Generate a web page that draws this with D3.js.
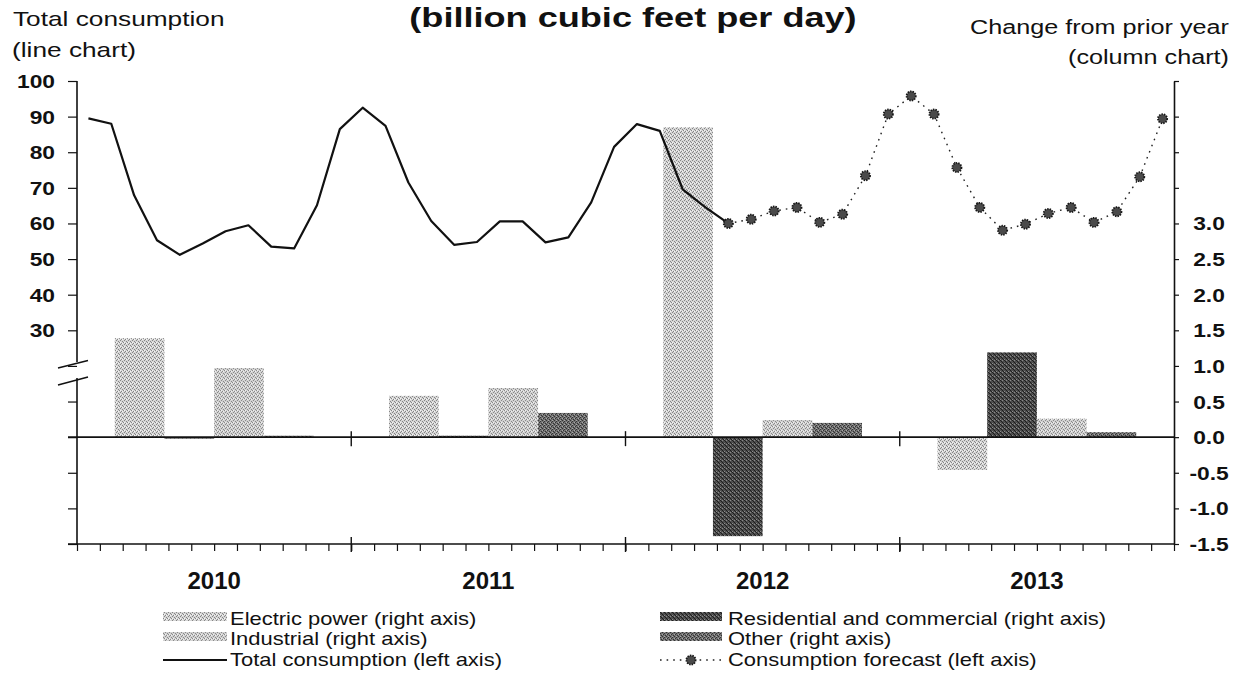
<!DOCTYPE html>
<html>
<head>
<meta charset="utf-8">
<script src="https://cdn.jsdelivr.net/npm/d3@7"></script>
<style>
  body { margin: 0; background: #fff; }
  svg { display: block; font-family: "Liberation Sans", Arial, sans-serif; }
</style>
</head>
<body>
<div id="chart"></div>
<script>

// ---- data ----
const years = ['2010', '2011', '2012', '2013'];

// monthly total consumption, Jan 2010 .. May 2012 (left axis, bcf/d)
const totalConsumption = [89.5, 88.0, 67.9, 55.3, 51.2, 54.4, 57.8, 59.5, 53.5, 53.0, 65.1, 86.5,
                          92.5, 87.4, 71.5, 60.7, 54.0, 54.8, 60.6, 60.6, 54.7, 56.1, 65.9, 81.5,
                          87.9, 86.0, 69.6, 64.5, 60.0];
const forecastStart = 28;   // May 2012
const consumptionForecast = [60.0, 61.2, 63.5, 64.5, 60.3, 62.6, 73.4, 90.7,
                             95.8, 90.7, 75.7, 64.5, 58.1, 59.8, 62.8, 64.5, 60.3, 63.3, 73.1, 89.4];

// change from prior year (right axis)
const electricPower = [1.39, 0.58, 4.35, -0.46];
const residentialCommercial = [0.0, 0.02, -1.39, 1.19];
const industrial = [0.97, 0.69, 0.24, 0.26];
const otherUse = [0.02, 0.34, 0.20, 0.07];

const leftTicks = [30, 40, 50, 60, 70, 80, 90, 100];
const rightTicks = [-1.5, -1.0, -0.5, 0.0, 0.5, 1.0, 1.5, 2.0, 2.5, 3.0];

// ---- layout ----
const W = 1249, H = 687;
const plot = { left: 77, right: 1174, top: 81, bottom: 544 };

const svg = d3.select('#chart').append('svg')
    .attr('width', W)
    .attr('height', H);

// stipple patterns for the columns
const defs = svg.append('defs');
const stipples = [
  { id: 'p-elec', base: '#d6d6d6', dark: '#858585', light: '#f4f4f4', cells: [[0, 0], [2, 1], [1, 3], [3, 2]], lcells: [[2, 3], [0, 2]] },
  { id: 'p-res',  base: '#4e4e4e', dark: '#1e1e1e', light: '#8a8a8a', cells: [[0, 0], [2, 2], [1, 1], [3, 3]], lcells: [[2, 0], [0, 3]] },
  { id: 'p-ind',  base: '#d2d2d2', dark: '#8a8a8a', light: '#f0f0f0', cells: [[1, 0], [3, 1], [0, 2], [2, 3]], lcells: [[3, 3], [1, 2]] },
  { id: 'p-oth',  base: '#737373', dark: '#333333', light: '#a8a8a8', cells: [[0, 1], [2, 0], [1, 3], [3, 2]], lcells: [[2, 2], [0, 0]] }
];
stipples.forEach(p => {
  const pat = defs.append('pattern')
      .attr('id', p.id)
      .attr('patternUnits', 'userSpaceOnUse')
      .attr('width', 4).attr('height', 4);
  pat.append('rect').attr('width', 4).attr('height', 4).attr('fill', p.base);
  p.cells.forEach(c => pat.append('rect').attr('x', c[0]).attr('y', c[1]).attr('width', 1).attr('height', 1).attr('fill', p.dark));
  p.lcells.forEach(c => pat.append('rect').attr('x', c[0]).attr('y', c[1]).attr('width', 1).attr('height', 1).attr('fill', p.light));
});

const series = [
  { key: 'Electric power', values: electricPower, fill: 'url(#p-elec)' },
  { key: 'Residential and commercial', values: residentialCommercial, fill: 'url(#p-res)' },
  { key: 'Industrial', values: industrial, fill: 'url(#p-ind)' },
  { key: 'Other', values: otherUse, fill: 'url(#p-oth)' }
];

// ---- scales ----
const xMonth = d3.scaleLinear().domain([0, 48]).range([plot.left, plot.right]);
const xYear = d3.scaleBand().domain(years).range([plot.left, plot.right]).padding(0);
const xSeries = d3.scaleBand().domain(series.map(s => s.key))
    .range([0, xYear.bandwidth()]).paddingInner(0).paddingOuter(0.76);

const yRight = d3.scaleLinear().domain([-1.5, 5]).range([plot.bottom, plot.top]);
const yLeft = d3.scaleLinear().domain([-30, 100]).range([plot.bottom, plot.top]);

// stretched text helper (the scan is wider than plain Arial)
function label(g, x, y, str, size, weight, anchor, sx) {
  return g.append('text')
      .attr('transform', `translate(${x},${y}) scale(${sx},1)`)
      .attr('text-anchor', anchor)
      .style('font-size', size + 'px')
      .style('font-weight', weight)
      .attr('fill', '#111')
      .text(str);
}

// ---- columns ----
const bars = svg.append('g');
series.forEach(s => {
  bars.selectAll(null)
    .data(s.values.map((v, i) => ({ year: years[i], v: v })))
    .enter().append('rect')
      .attr('x', d => xYear(d.year) + xSeries(s.key))
      .attr('width', xSeries.bandwidth())
      .attr('y', d => yRight(Math.max(0, d.v)))
      .attr('height', d => Math.max(1.5, Math.abs(yRight(d.v) - yRight(0))))
      .attr('fill', s.fill);
});

// ---- axes ----
const axisG = svg.append('g').attr('stroke', '#111');

// bottom month ticks
const xAxis = svg.append('g')
    .attr('transform', `translate(0,${plot.bottom})`)
    .call(d3.axisBottom(xMonth).tickValues(d3.range(0, 49)).tickSize(7).tickSizeOuter(0).tickFormat(''));
xAxis.select('.domain').remove();
xAxis.selectAll('line').attr('stroke', '#111').attr('stroke-width', 1.2);

axisG.append('line')
    .attr('x1', 68).attr('x2', plot.right)
    .attr('y1', plot.bottom).attr('y2', plot.bottom)
    .attr('stroke-width', 1.6);

// zero line
axisG.append('line')
    .attr('x1', 68).attr('x2', plot.right)
    .attr('y1', yRight(0)).attr('y2', yRight(0))
    .attr('stroke-width', 1.6);

// year dividers
[12, 24, 36].forEach(m => {
  axisG.append('line')
      .attr('x1', xMonth(m)).attr('x2', xMonth(m))
      .attr('y1', plot.bottom - 7).attr('y2', plot.bottom + 8)
      .attr('stroke-width', 1.4);
  axisG.append('line')
      .attr('x1', xMonth(m)).attr('x2', xMonth(m))
      .attr('y1', yRight(0) - 6).attr('y2', yRight(0) + 9)
      .attr('stroke-width', 1.4);
});

// left axis with a break below 30
const yAxisL = svg.append('g')
    .attr('transform', `translate(${plot.left},0)`)
    .call(d3.axisLeft(yLeft).tickValues(d3.range(-30, 101, 10)).tickSize(9).tickFormat(''));
yAxisL.select('.domain').remove();
yAxisL.selectAll('line').attr('stroke', '#111').attr('stroke-width', 1.2);

axisG.append('line')
    .attr('x1', plot.left).attr('x2', plot.left)
    .attr('y1', plot.top).attr('y2', 362)
    .attr('stroke-width', 1.6);
axisG.append('line')
    .attr('x1', plot.left).attr('x2', plot.left)
    .attr('y1', 378).attr('y2', plot.bottom)
    .attr('stroke-width', 1.6);
axisG.append('path')
    .attr('d', 'M58,368 L88,360.5 M58,385 L88,377')
    .attr('fill', 'none')
    .attr('stroke-width', 1.5);

// right axis
const yAxisR = svg.append('g')
    .attr('transform', `translate(${plot.right},0)`)
    .call(d3.axisRight(yRight).tickValues(d3.range(-1.5, 5.01, 0.5)).tickSize(5).tickSizeOuter(0).tickFormat(''));
yAxisR.select('.domain').attr('stroke', '#111').attr('stroke-width', 1.6);
yAxisR.selectAll('line').attr('stroke', '#111').attr('stroke-width', 1.2);

// ---- lines ----
const line = d3.line()
    .x(d => xMonth(d.m + 0.5))
    .y(d => yLeft(d.v));

svg.append('path')
    .datum(totalConsumption.map((v, i) => ({ m: i, v: v })))
    .attr('d', line)
    .attr('fill', 'none')
    .attr('stroke', '#111')
    .attr('stroke-width', 2.2)
    .attr('stroke-linejoin', 'round');

const fc = consumptionForecast.map((v, i) => ({ m: forecastStart + i, v: v }));

svg.append('path')
    .datum(fc)
    .attr('d', line)
    .attr('fill', 'none')
    .attr('stroke', '#222')
    .attr('stroke-width', 1.4)
    .attr('stroke-dasharray', '1.6,5');

function marker(g, x, y) {
  g.append('circle')
      .attr('cx', x).attr('cy', y).attr('r', 4.6)
      .attr('fill', '#4a4a4a')
      .attr('stroke', '#161616')
      .attr('stroke-width', 1.8)
      .attr('stroke-dasharray', '1.4,1.1');
}
const markers = svg.append('g');
fc.forEach(d => marker(markers, xMonth(d.m + 0.5), yLeft(d.v)));

// ---- text ----
const txt = svg.append('g');

label(txt, 633, 27, '(billion cubic feet per day)', 28, 'bold', 'middle', 1.29);

label(txt, 13, 26, 'Total consumption', 21, 'normal', 'start', 1.25);
label(txt, 12, 57, '(line chart)', 21, 'normal', 'start', 1.25);
label(txt, 1229, 34, 'Change from prior year', 21, 'normal', 'end', 1.2);
label(txt, 1229, 64, '(column chart)', 21, 'normal', 'end', 1.2);

leftTicks.forEach(v => label(txt, 55, yLeft(v) + 7, String(v), 19, 'bold', 'end', 1.2));
rightTicks.forEach(v => label(txt, 1209, yRight(v) + 7, v.toFixed(1), 19, 'bold', 'middle', 1.2));

years.forEach(y => label(txt, xYear(y) + xYear.bandwidth() / 2, 589, y, 24, 'bold', 'middle', 1.0));

// ---- legend ----
const legend = svg.append('g');
const legendRows = [625, 645, 666];
const legendCols = [{ sw: 163, tx: 230 }, { sw: 660, tx: 728 }];
const legendItems = [
  { col: 0, row: 0, text: 'Electric power (right axis)', fill: 'url(#p-elec)' },
  { col: 1, row: 0, text: 'Residential and commercial (right axis)', fill: 'url(#p-res)' },
  { col: 0, row: 1, text: 'Industrial (right axis)', fill: 'url(#p-ind)' },
  { col: 1, row: 1, text: 'Other (right axis)', fill: 'url(#p-oth)' },
  { col: 0, row: 2, text: 'Total consumption (left axis)', type: 'line' },
  { col: 1, row: 2, text: 'Consumption forecast (left axis)', type: 'forecast' }
];

legendItems.forEach(it => {
  const c = legendCols[it.col];
  const base = legendRows[it.row];
  const swW = it.col === 0 ? 64 : 62;
  if (it.type === 'line') {
    legend.append('line')
        .attr('x1', c.sw).attr('x2', c.sw + swW)
        .attr('y1', base - 6).attr('y2', base - 6)
        .attr('stroke', '#111').attr('stroke-width', 2);
  } else if (it.type === 'forecast') {
    legend.append('line')
        .attr('x1', c.sw).attr('x2', c.sw + swW)
        .attr('y1', base - 6).attr('y2', base - 6)
        .attr('stroke', '#222').attr('stroke-width', 1.4)
        .attr('stroke-dasharray', '1.6,5');
    marker(legend, c.sw + swW / 2, base - 6);
  } else {
    legend.append('rect')
        .attr('x', c.sw).attr('y', base - 13)
        .attr('width', swW).attr('height', 9)
        .attr('fill', it.fill);
  }
  label(legend, c.tx, base, it.text, 18, 'normal', 'start', 1.22);
});

</script>
</body>
</html>
